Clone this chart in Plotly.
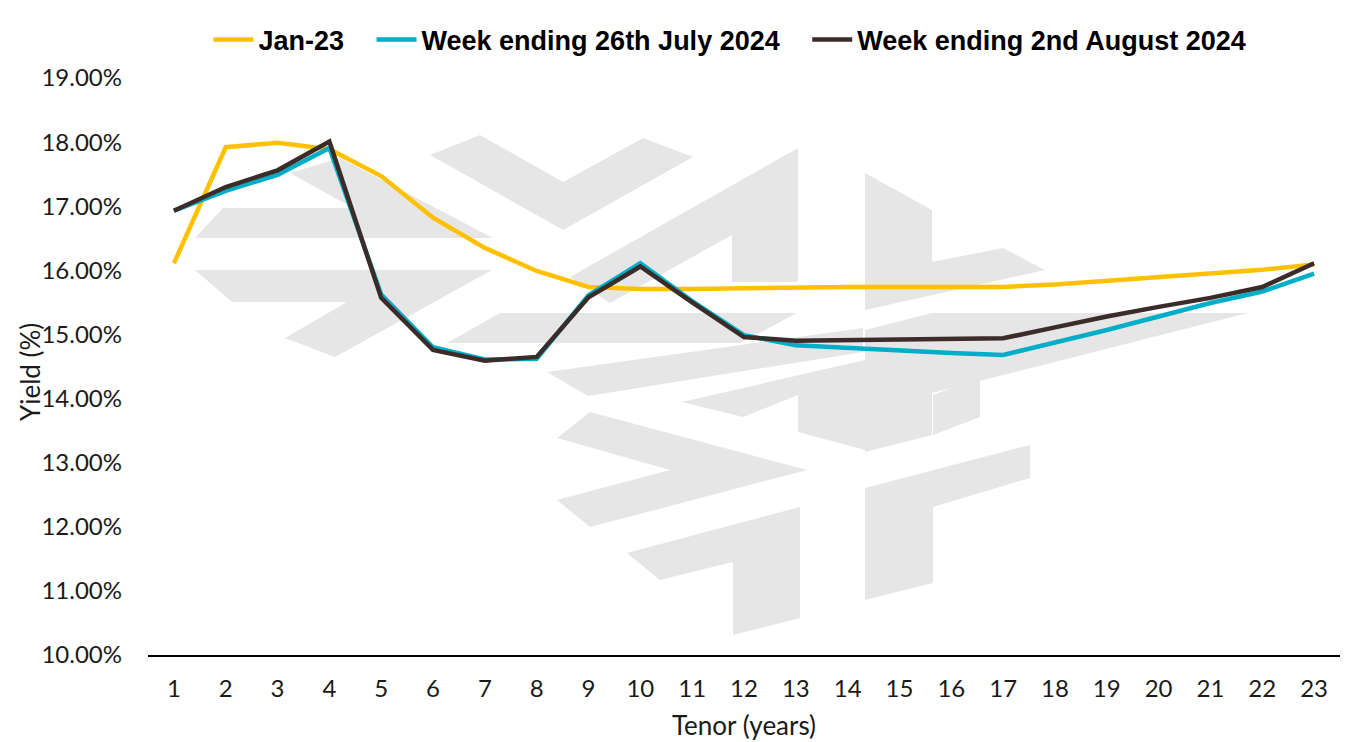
import plotly.graph_objects as go

tenor = list(range(1, 24))
jan23 = [16.11, 17.92, 17.99, 17.89, 17.47, 16.82, 16.35, 15.99, 15.74, 15.71, 15.71, 15.72,
         15.74, 15.74, 15.74, 15.74, 15.74, 15.78, 15.84, 15.89, 15.95, 16.01, 16.09]
jul26 = [16.93, 17.24, 17.49, 17.91, 15.62, 14.80, 14.61, 14.62, 15.61, 16.11, 15.52, 14.99,
         14.83, 14.79, 14.74, 14.71, 14.68, 14.87, 15.07, 15.28, 15.49, 15.67, 15.95]
aug02 = [16.93, 17.30, 17.56, 18.01, 15.57, 14.76, 14.59, 14.65, 15.58, 16.06, 15.50, 14.96,
         14.90, 14.91, 14.92, 14.93, 14.94, 15.11, 15.28, 15.43, 15.57, 15.74, 16.11]
yticks = [10, 11, 12, 13, 14, 15, 16, 17, 18, 19]
ytick_text = ["10.00%", "11.00%", "12.00%", "13.00%", "14.00%", "15.00%", "16.00%",
              "17.00%", "18.00%", "19.00%"]

series_names = ["Jan-23", "Week ending 26th July 2024", "Week ending 2nd August 2024"]
series_values = [jan23, jul26, aug02]
series_colors = ["#FFC000", "#00AEC7", "#3B2C29"]

# --- page geometry ---
W, H = 1360, 742
ML, MR, MT, MB = 148, 20, 78, 87
PW, PH = W - ML - MR, H - MT - MB

# decorative background watermark (logo), polygons in page pixels
WATERMARK = [
    [(195, 238), (223, 208), (353, 208), (290, 173), (340, 158), (493, 238)],
    [(195, 270), (492, 270), (335, 357), (285, 338), (347, 302), (232, 302)],
    [(430, 155), (480, 135), (563, 182), (643, 138), (693, 157), (563, 230)],
    [(570, 277), (798, 148), (798, 282), (732, 282), (732, 235), (610, 303)],
    [(447, 343), (500, 313), (797, 313), (740, 343)],
    [(547, 372), (863, 328), (863, 352), (588, 396)],
    [(590, 412), (807, 470), (590, 527), (557, 500), (670, 470), (557, 438)],
    [(682, 402), (865, 360), (865, 450), (798, 432), (798, 395), (743, 417)],
    [(627, 553), (800, 507), (800, 618), (733, 635), (733, 562), (660, 580)],
    [(865, 173), (932, 210), (932, 262), (1003, 248), (1045, 270), (865, 310)],
    [(865, 330), (932, 313), (1248, 313), (932, 393), (932, 435), (865, 452)],
    [(933, 395), (980, 377), (980, 417), (933, 435)],
    [(865, 488), (1030, 445), (1030, 478), (933, 507), (933, 583), (865, 600)],
]


def to_paper(px, py):
    return (px - ML) / PW, (H - MB - py) / PH


shapes = []
for poly in WATERMARK:
    pts = [to_paper(px, py) for px, py in poly]
    path = "M " + " L ".join(f"{x:.4f},{y:.4f}" for x, y in pts) + " Z"
    shapes.append(dict(type="path", path=path, xref="paper", yref="paper",
                       fillcolor="#E6E6E6", line=dict(width=0), layer="below"))

fig = go.Figure()
gap = "\u00a0" * 3
for i, (name, vals, col) in enumerate(zip(series_names, series_values, series_colors)):
    label = name + (gap if i < len(series_names) - 1 else "")
    fig.add_trace(go.Scatter(x=tenor, y=vals, name=label, mode="lines",
                             line=dict(color=col, width=4.5)))

tick_font = dict(family="Lato, Open Sans, sans-serif", size=24, color="#1a1a1a")
title_font = dict(family="Lato, Open Sans, sans-serif", size=26, color="#1a1a1a")

fig.update_layout(
    width=W, height=H,
    margin=dict(l=ML, r=MR, t=MT, b=MB, autoexpand=False),
    paper_bgcolor="white", plot_bgcolor="white",
    showlegend=True,
    legend=dict(orientation="h", x=(730 - ML) / PW, xanchor="center",
                y=(H - MB - 40) / PH, yanchor="middle",
                font=dict(family="Liberation Sans, Arial, sans-serif",
                          size=27, color="black", weight="bold"),
                itemwidth=40, traceorder="normal", bgcolor="rgba(0,0,0,0)"),
    xaxis=dict(range=[0.5, 23.5], tickmode="array", tickvals=tenor,
               ticktext=[str(t) for t in tenor], automargin=False,
               showgrid=False, zeroline=False, showline=True, linecolor="black",
               linewidth=2, ticks="", tickfont=tick_font, ticklabelstandoff=11,
               title=dict(text="Tenor (years)", font=title_font, standoff=16)),
    yaxis=dict(range=[10, 19], tickmode="array", tickvals=yticks, ticktext=ytick_text,
               showgrid=False, zeroline=False, showline=False, ticks="", automargin=False,
               tickfont=tick_font, ticklabelstandoff=25),
    shapes=shapes,
    annotations=[dict(text="Yield (%)", textangle=-90, xref="paper", yref="paper",
                      x=(30 - ML) / PW, y=(H - MB - 372) / PH,
                      xanchor="center", yanchor="middle",
                      showarrow=False, font=title_font)],
)

fig.write_html("out.html", config={"displayModeBar": False},
               post_script="document.body.style.margin='0';document.body.style.overflow='hidden';")
